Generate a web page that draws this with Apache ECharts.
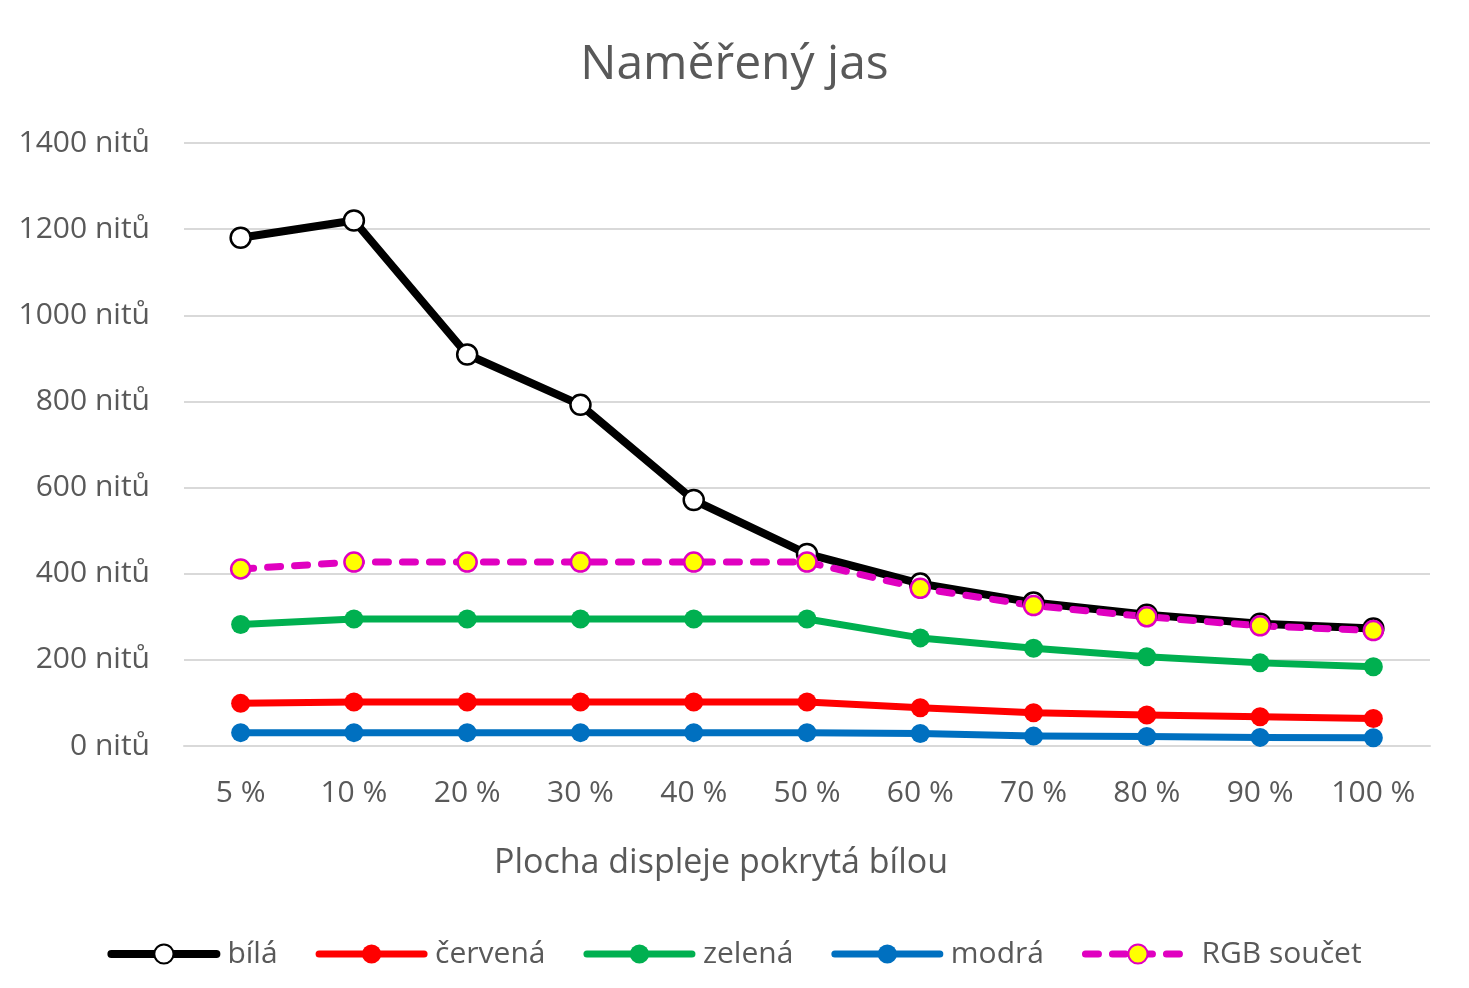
<!DOCTYPE html>
<html>
<head>
<meta charset="utf-8">
<script src="https://cdn.jsdelivr.net/npm/echarts@6/dist/echarts.min.js"></script>
<style>
html,body{margin:0;padding:0;background:#fff;}
#chart{width:1469px;height:988px;}
</style>
</head>
<body>
<div id="chart"></div>
<script>
const categories = ['5 %','10 %','20 %','30 %','40 %','50 %','60 %','70 %','80 %','90 %','100 %'];
const bila    = [1180, 1220, 909, 792, 571, 446, 377, 333, 305, 284, 273];
const cervena = [99, 102, 102, 102, 102, 102, 89, 77, 72, 68, 64];
const zelena  = [282, 295, 295, 295, 295, 295, 251, 227, 207, 193, 184];
const modra   = [31, 31, 31, 31, 31, 31, 29, 23, 22, 20, 19];
const rgbSoucet = [411, 427, 427, 427, 427, 427, 366, 326, 300, 279, 268];
const yTicks = {min: 0, max: 1400, interval: 200};

const FONT = 'Open Sans';
const TXT = '#595959';

function solid(name, data, color, opts) {
  return Object.assign({
    name, type: 'line', data,
    symbol: 'circle', symbolSize: 19,
    lineStyle: {color, width: 7, cap: 'round', join: 'round'},
    itemStyle: {color, borderColor: color, borderWidth: 0},
    emphasis: {disabled: true},
    animation: false
  }, opts || {});
}

const chart = echarts.init(document.getElementById('chart'));
chart.setOption({
  backgroundColor: '#fff',
  animation: false,
  title: {
    text: 'Naměřený jas',
    left: 'center', top: 36,
    textStyle: {fontFamily: FONT, fontSize: 48, fontWeight: 'normal', color: TXT}
  },
  grid: {left: 184, right: 39, top: 143, bottom: 242, containLabel: false},
  xAxis: {
    type: 'category', data: categories, boundaryGap: true,
    axisLine: {show: true, lineStyle: {color: '#d9d9d9', width: 2}},
    axisTick: {show: false},
    axisLabel: {fontFamily: FONT, fontSize: 30, color: TXT, margin: 32},
    name: 'Plocha displeje pokrytá bílou',
    nameLocation: 'middle', nameGap: 100,
    nameTextStyle: {fontFamily: FONT, fontSize: 34, color: TXT, padding: [0, 172, 0, 0]}
  },
  yAxis: {
    type: 'value', min: yTicks.min, max: yTicks.max, interval: yTicks.interval,
    axisLine: {show: false}, axisTick: {show: false},
    axisLabel: {fontFamily: FONT, fontSize: 30, color: TXT, margin: 34,
      formatter: function (v) { return String(v) + ' nitů'; }},
    splitLine: {lineStyle: {color: '#d9d9d9', width: 2}}
  },
  legend: {
    bottom: 14, left: 'center',
    itemWidth: 105, itemHeight: 24, itemGap: 38,
    textStyle: {fontFamily: FONT, fontSize: 30, color: TXT, padding: [0, 0, 0, 6]},
    data: [
      {name: 'bílá', lineStyle: {width: 8, cap: 'round'}},
      {name: 'červená', lineStyle: {width: 7, cap: 'round'}},
      {name: 'zelená', lineStyle: {width: 7, cap: 'round'}},
      {name: 'modrá', lineStyle: {width: 7, cap: 'round'}},
      {name: 'RGB součet', lineStyle: {width: 7, cap: 'round'}}
    ]
  },
  series: [
    solid('bílá', bila, '#000000', {
      symbolSize: 20,
      lineStyle: {color: '#000', width: 8, cap: 'round', join: 'round'},
      itemStyle: {color: '#ffffff', borderColor: '#000000', borderWidth: 2.5}
    }),
    solid('červená', cervena, '#ff0000'),
    solid('zelená', zelena, '#00b050'),
    solid('modrá', modra, '#0070c0'),
    solid('RGB součet', rgbSoucet, '#e000c0', {
      symbolSize: 19,
      lineStyle: {color: '#e000c0', width: 7, type: [13, 14], cap: 'round', join: 'round'},
      itemStyle: {color: '#ffff00', borderColor: '#e000c0', borderWidth: 2.5}
    })
  ]
});
</script>
</body>
</html>
